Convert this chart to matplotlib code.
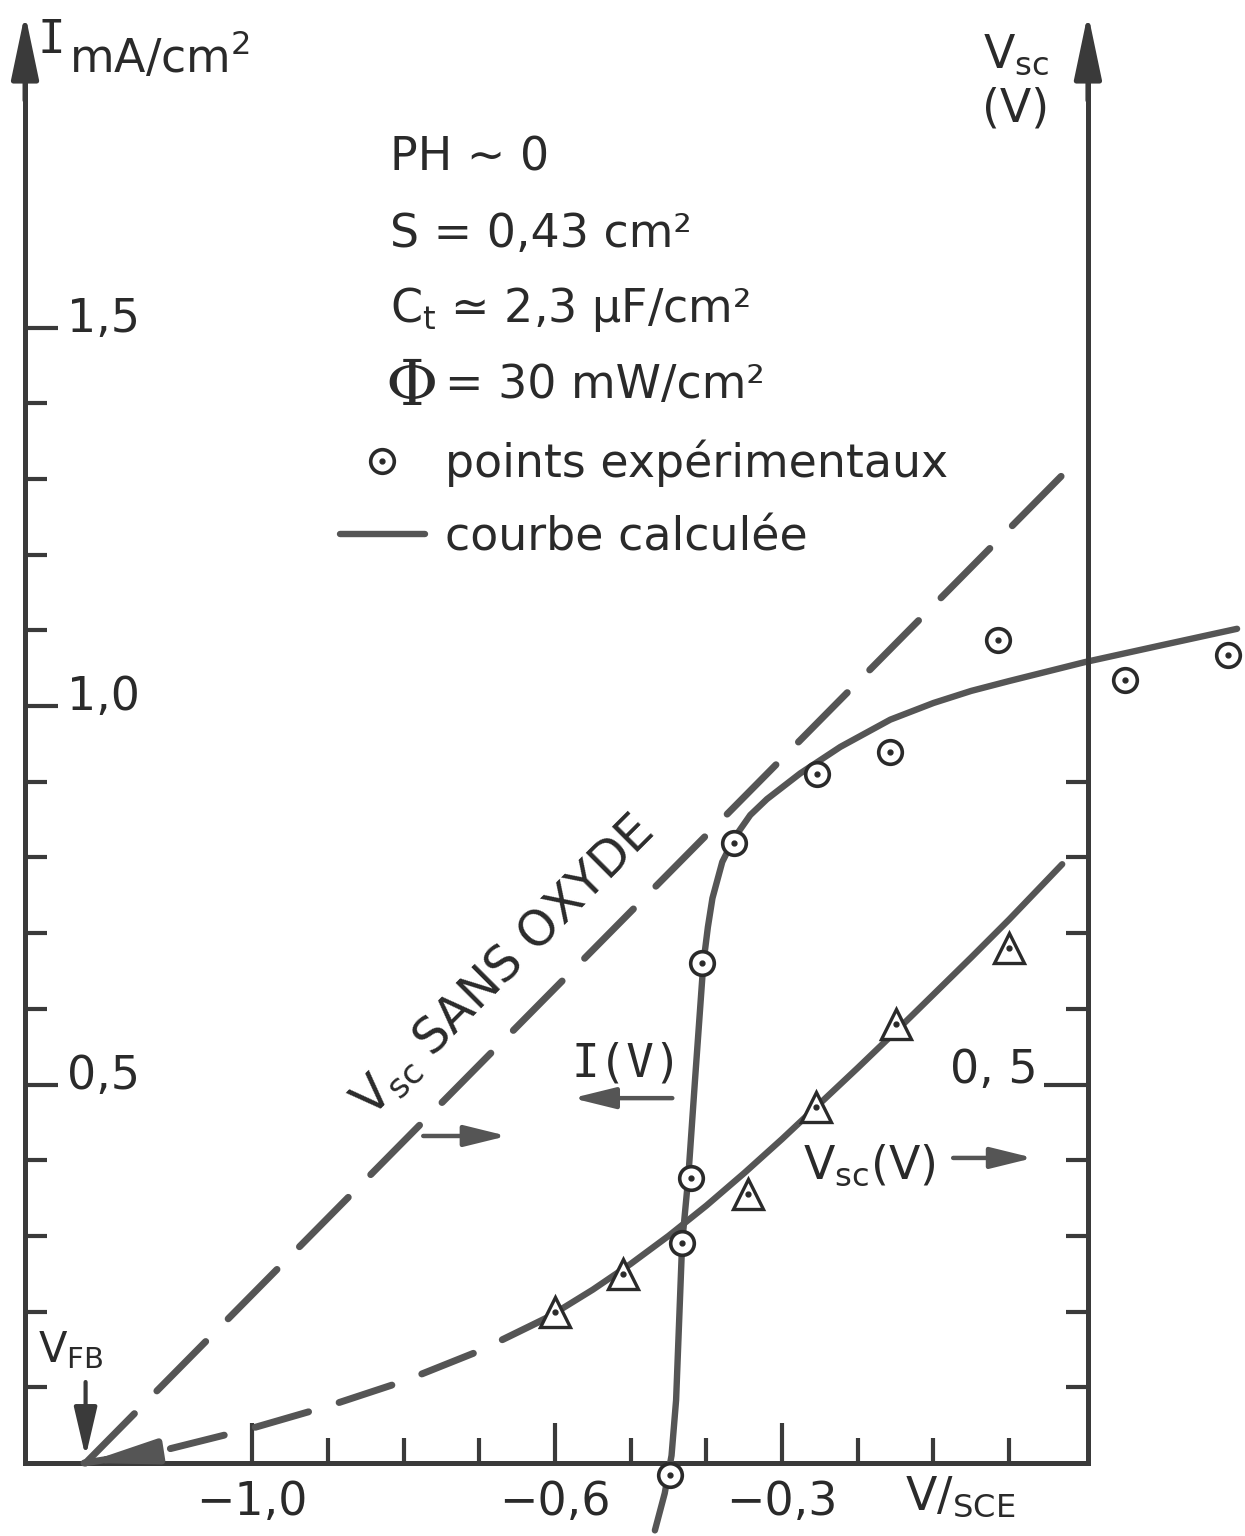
"""Photocourant I(V) et tension V_sc(V) à pH ~ 0, comparés au cas sans oxyde."""

import matplotlib

matplotlib.use("Agg")
import matplotlib.pyplot as plt
from matplotlib.legend_handler import HandlerTuple


# potential axis (V/SCE)
V_FB = -1.22
X_MIN, X_MAX = -1.30, 0.31
Y_MIN, Y_MAX = -0.095, 1.93
X_RIGHT_AXIS = 0.104

# V_sc without oxide: straight line from V_FB
sans_oxyde_v = [V_FB, 0.085]
sans_oxyde_vsc = [0.0, 1.32]

# calculated V_sc(V): dashed lower branch, then solid branch
vsc_low_v = [-1.222, -1.12, -1.00, -0.90, -0.80, -0.70, -0.61]
vsc_low = [0.0, 0.016, 0.046, 0.075, 0.108, 0.148, 0.192]
vsc_v = [-0.61, -0.55, -0.50, -0.45, -0.40, -0.35, -0.30, -0.25,
         -0.20, -0.15, -0.10, -0.05, 0.00, 0.07]
vsc = [0.192, 0.229, 0.263, 0.300, 0.340, 0.383, 0.428, 0.475,
       0.522, 0.570, 0.619, 0.668, 0.718, 0.791]

# measured V_sc (triangles)
vsc_exp_v = [-0.60, -0.51, -0.345, -0.255, -0.15, 0.0]
vsc_exp = [0.20, 0.25, 0.355, 0.47, 0.58, 0.68]

# calculated photocurrent I(V), mA/cm2
iv_v = [-0.468, -0.455, -0.446, -0.440, -0.432, -0.424, -0.415, -0.404,
        -0.398, -0.392, -0.379, -0.363, -0.342, -0.320, -0.276, -0.223,
        -0.157, -0.10, -0.05, 0.0, 0.10, 0.20, 0.301]
iv_i = [-0.089, -0.040, 0.010, 0.083, 0.291, 0.376, 0.506, 0.660,
        0.708, 0.746, 0.794, 0.826, 0.856, 0.877, 0.911, 0.946,
        0.982, 1.004, 1.020, 1.033, 1.058, 1.080, 1.102]

# measured photocurrent (circles)
i_exp_v = [-0.448, -0.432, -0.420, -0.406, -0.363, -0.254, -0.157,
           -0.015, 0.153, 0.289]
i_exp = [-0.016, 0.291, 0.376, 0.660, 0.819, 0.910, 0.939,
         1.087, 1.034, 1.067]

# ticks
x_major = [-1.0, -0.6, -0.3]
x_major_labels = ["−1,0", "−0,6", "−0,3"]
x_minor = [-0.9, -0.8, -0.7, -0.5, -0.4, -0.2, -0.1, 0.0]
i_major = [0.5, 1.0, 1.5]
i_major_labels = ["0,5", "1,0", "1,5"]
i_minor = [0.1, 0.2, 0.3, 0.4, 0.6, 0.7, 0.8, 0.9, 1.1, 1.2, 1.3, 1.4]
vsc_major = [0.5]
vsc_major_labels = ["0, 5"]
vsc_minor = [0.1, 0.2, 0.3, 0.4, 0.6, 0.7, 0.8, 0.9]

# experimental conditions, one per line
conditions = [
    "PH ∼ 0",
    "S = 0,43 cm²",
    "C$_{\\rm t}$ ≃ 2,3 µF/cm²",
    "= 30 mW/cm²",
]
conditions_x = [-0.818, -0.818, -0.818, -0.745]
conditions_y = [1.708, 1.606, 1.507, 1.407]

INK = "#2a2a2a"
AXIS = "#3a3a3a"
CURVE = "#555555"
FS = 33

plt.rcParams["font.family"] = ["DejaVu Sans"]
plt.rcParams["mathtext.fontset"] = "dejavusans"

fig = plt.figure(figsize=(12.45, 15.36), dpi=100)
ax = fig.add_axes([0.0201, 0.0007, 0.9790, 0.9980])
ax.set_xlim(X_MIN, X_MAX)
ax.set_ylim(Y_MIN, Y_MAX)
ax.patch.set_visible(False)

# axes frame: left I axis, bottom V axis
for side in ("top", "right"):
    ax.spines[side].set_visible(False)
ax.spines["left"].set_bounds(0, 1.86)
ax.spines["bottom"].set_position(("data", 0))
ax.spines["bottom"].set_bounds(X_MIN, X_RIGHT_AXIS)
for side in ("left", "bottom"):
    ax.spines[side].set_linewidth(3.6)
    ax.spines[side].set_color(AXIS)
    ax.spines[side].set_capstyle("projecting")

ax.set_xticks(x_major, x_major_labels)
ax.set_xticks(x_minor, minor=True)
ax.tick_params(axis="x", which="major", direction="in", length=29, width=3,
               pad=12, labelsize=FS, colors=AXIS, labelcolor=INK)
ax.tick_params(axis="x", which="minor", direction="in", length=18, width=3,
               colors=AXIS)
ax.set_yticks(i_major)
ax.set_yticks(i_minor, minor=True)
ax.tick_params(axis="y", which="major", direction="in", length=24, width=3,
               labelleft=False, colors=AXIS)
ax.tick_params(axis="y", which="minor", direction="in", length=16, width=3,
               colors=AXIS)
for val, lbl in zip(i_major, i_major_labels):
    ax.annotate(lbl, xy=(X_MIN, val), xytext=(30, -3), textcoords="offset points",
                fontsize=FS, color=INK, ha="left", va="baseline")

# right V_sc axis, same scale as the current axis
ax2 = ax.twinx()
ax2.set_ylim(Y_MIN, Y_MAX)
for side in ("top", "left", "bottom"):
    ax2.spines[side].set_visible(False)
ax2.spines["right"].set_position(("data", X_RIGHT_AXIS))
ax2.spines["right"].set_bounds(0, 1.86)
ax2.spines["right"].set_linewidth(3.6)
ax2.spines["right"].set_color(AXIS)
ax2.set_yticks(vsc_major)
ax2.set_yticks(vsc_minor, minor=True)
ax2.tick_params(axis="y", which="major", direction="in", length=32, width=3,
                labelright=False, colors=AXIS)
ax2.tick_params(axis="y", which="minor", direction="in", length=16, width=3,
                colors=AXIS)
for val, lbl in zip(vsc_major, vsc_major_labels):
    ax2.annotate(lbl, xy=(X_RIGHT_AXIS, val), xytext=(-36, 1),
                 textcoords="offset points", fontsize=FS, color=INK,
                 ha="right", va="baseline")

# arrow tips on both vertical axes
for x in (X_MIN, X_RIGHT_AXIS):
    ax.annotate("", xy=(x, 1.915), xytext=(x, 1.80),
                arrowprops=dict(arrowstyle="-|>,head_length=2.0,head_width=0.42",
                                mutation_scale=20, lw=3.6, color=AXIS,
                                shrinkA=0, shrinkB=0),
                annotation_clip=False)

# axis titles
ax.text(-1.283, 1.862, "I", fontsize=FS, family="DejaVu Sans Mono", color=INK,
        ha="left", va="baseline")
ax.text(-1.242, 1.838, "mA/cm$^{2}$", fontsize=FS, color=INK, ha="left",
        va="baseline")
ax.text(0.009, 1.843, "V$_{\\rm sc}$", fontsize=FS, color=INK, ha="center",
        va="baseline")
ax.text(0.009, 1.772, "(V)", fontsize=FS, color=INK, ha="center", va="baseline")
ax.text(-0.137, -0.062, "V$/_{\\rm SCE}$", fontsize=FS, color=INK, ha="left",
        va="baseline")

# curves
dash = (0, (10, 4.6))
ax.plot(sans_oxyde_v, sans_oxyde_vsc, color=CURVE, lw=5, ls=dash,
        dash_capstyle="round", zorder=3)
ax.plot(vsc_low_v, vsc_low, color=CURVE, lw=5, ls=(0, (8, 4.6)),
        dash_capstyle="round", zorder=3)
ax.plot(vsc_v, vsc, color=CURVE, lw=4.6, solid_capstyle="round",
        solid_joinstyle="round", zorder=3)
iv_line, = ax.plot(iv_v, iv_i, color=CURVE, lw=4.6, solid_capstyle="round",
                   solid_joinstyle="round", zorder=3, clip_on=False)

# experimental points
ax.plot(vsc_exp_v, vsc_exp, ls="none", marker="^", ms=22, mfc="white",
        mec=INK, mew=2.4, zorder=4)
ax.plot(vsc_exp_v, vsc_exp, ls="none", marker="o", ms=3.5, color=INK, zorder=5)
rings, = ax.plot(i_exp_v, i_exp, ls="none", marker="o", ms=17, mfc="white",
                 mec=INK, mew=2.6, zorder=4, clip_on=False)
dots, = ax.plot(i_exp_v, i_exp, ls="none", marker="o", ms=3.5, color=INK,
                zorder=5, clip_on=False)

# flat band potential marker
ax.annotate("", xy=(V_FB, 0.008), xytext=(V_FB, 0.107),
            arrowprops=dict(arrowstyle="-|>,head_length=1.5,head_width=0.35",
                            mutation_scale=20, lw=3, color=AXIS,
                            shrinkA=0, shrinkB=0))
ax.annotate("", xy=(V_FB, 0.0), xytext=(-1.13, 0.014),
            arrowprops=dict(arrowstyle="-|>,head_length=2.0,head_width=0.35",
                            mutation_scale=20, lw=5, color=CURVE,
                            shrinkA=0, shrinkB=0))
ax.text(-1.283, 0.133, "V$_{\\rm FB}$", fontsize=30, color=INK, ha="left",
        va="baseline")

# curve labels with direction arrows
ax.text(-0.668, 0.656, "V$_{\\rm sc}$ SANS OXYDE", fontsize=35, color=INK,
        rotation=45, rotation_mode="anchor", ha="center", va="center")
ax.text(-0.505, 0.527, "I(V)", fontsize=FS, family="DejaVu Sans Mono",
        color=INK, ha="center", va="center")
ax.text(-0.272, 0.376, "V$_{\\rm sc}$(V)", fontsize=FS, color=INK, ha="left",
        va="baseline")
arrow_style = dict(arrowstyle="-|>,head_length=1.3,head_width=0.32",
                   mutation_scale=20, lw=3.2, color=CURVE, shrinkA=0, shrinkB=0)
ax.annotate("", xy=(-0.663, 0.432), xytext=(-0.774, 0.432), arrowprops=arrow_style)
ax.annotate("", xy=(-0.577, 0.482), xytext=(-0.445, 0.482), arrowprops=arrow_style)
ax.annotate("", xy=(0.032, 0.403), xytext=(-0.074, 0.403), arrowprops=arrow_style)

# experimental conditions block
for txt, x, y in zip(conditions, conditions_x, conditions_y):
    ax.text(x, y, txt, fontsize=FS, color=INK, ha="left", va="baseline")
ax.text(-0.824, 1.398, "Φ", fontsize=46, family="DejaVu Serif", color=INK,
        ha="left", va="baseline")

ax.legend([(rings, dots), iv_line],
          ["points expérimentaux", "courbe calculée"],
          handler_map={tuple: HandlerTuple(ndivide=1)},
          loc="upper left", bbox_to_anchor=(-0.884, 1.352),
          bbox_transform=ax.transData, frameon=False, fontsize=FS,
          handlelength=1.85, handletextpad=0.45, labelspacing=0.62,
          borderpad=0, borderaxespad=0, labelcolor=INK)

fig.savefig("out.png", dpi=100)
